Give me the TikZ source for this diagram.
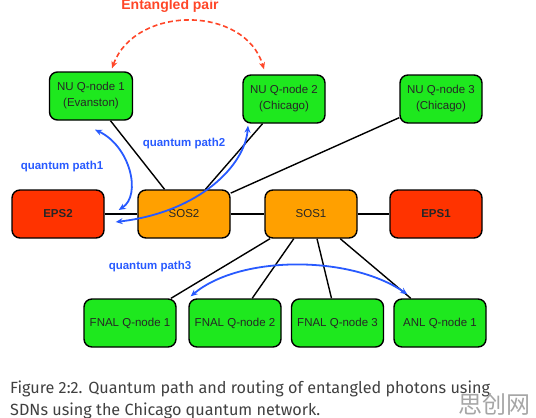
\documentclass[tikz,border=0pt]{standalone}
\usepackage{fontspec}
\setmainfont{Liberation Sans}
\newfontfamily\capfont{Fira Sans}
\newfontfamily\cjk{Noto Sans CJK SC}
\usetikzlibrary{arrows.meta}
\definecolor{qgreen}{RGB}{30,232,30}
\definecolor{sosorange}{RGB}{255,160,0}
\definecolor{epsred}{RGB}{255,51,0}
\definecolor{qblue}{RGB}{40,90,255}
\definecolor{pairred}{RGB}{255,70,40}
\begin{document}
\begin{tikzpicture}[x=1pt,y=-1pt,
	box/.style={draw=black,line width=1.4pt,rounded corners=8pt,minimum width=92pt,minimum height=48pt,inner sep=1pt,align=center,text=black!85,font=\fontsize{11.5}{16}\selectfont},
	qnode/.style={box,fill=qgreen},
	sos/.style={box,fill=sosorange},
	eps/.style={box,fill=epsred,font=\fontsize{11.5}{16}\selectfont\bfseries},
	link/.style={line width=1.4pt},
	qpath/.style={draw=qblue,line width=1.8pt,{Stealth[length=7pt,width=6pt]}-{Stealth[length=7pt,width=6pt]}},
	qlabel/.style={text=qblue,font=\fontsize{11.5}{14}\selectfont\bfseries}]
	\useasboundingbox (0,0) rectangle (536,418);
	% Các nút NU phía trên
	\node[qnode,minimum width=83pt] (nu1) at (91,96) {NU Q-node 1\\(Evanston)};
	\node[qnode,minimum width=82pt] (nu2) at (284,99) {NU Q-node 2\\(Chicago)};
	\node[qnode,minimum width=82pt] (nu3) at (441,99) {NU Q-node 3\\(Chicago)};
	% Hàng giữa: EPS và SOS
	\node[eps] (eps2) at (58,214) {EPS2};
	\node[sos] (sos2) at (184,214) {SOS2};
	\node[sos] (sos1) at (311,214) {SOS1};
	\node[eps] (eps1) at (436,214) {EPS1};
	% Các nút phía dưới
	\node[qnode] (fnal1) at (130,323) {FNAL Q-node 1};
	\node[qnode] (fnal2) at (235,323) {FNAL Q-node 2};
	\node[qnode] (fnal3) at (337.5,323) {FNAL Q-node 3};
	\node[qnode] (anl1) at (440,323) {ANL Q-node 1};
	% Các đường nối
	\foreach \a/\b in {nu1/sos2, nu2/sos2, nu3/sos2, eps2/sos2, sos2/sos1, sos1/eps1, sos1/fnal1, sos1/fnal2, sos1/fnal3, sos1/anl1}
	\draw[link] (\a) -- (\b);
	% Cặp vướng víu
	\draw[pairred,dashed,line width=1.6pt,dash pattern=on 5pt off 3pt,{Stealth[length=7pt,width=6pt]}-{Stealth[length=7pt,width=6pt]}]
	([shift={(21,-3)}]nu1.north) .. controls (135,5) and (245,5) .. ([shift={(-20,-5)}]nu2.north);
	\node[text=pairred,font=\fontsize{14}{16}\selectfont\bfseries] (pair) at (170,6) {Entangled pair};
	% Các đường lượng tử
	\draw[qpath] ([shift={(4,9)}]nu1.south) .. controls (130,146) and (142,195) .. ([shift={(14,-4)}]eps2.east);
	\draw[qpath] ([shift={(11,8)}]eps2.east) .. controls (200,212) and (245,165) .. ([shift={(-36,2)}]nu2.south);
	\draw[qpath] ([shift={(14,-2)}]fnal1.north east) .. controls (240,255) and (350,255) .. ([shift={(14,-4)}]anl1.north west);
	\node[qlabel] (lab1) at (62,167) {quantum path1};
	\node[qlabel] (lab2) at (184,144) {quantum path2};
	\node[qlabel] (lab3) at (150,267) {quantum path3};
	% Chú thích
	\node[anchor=base west,inner sep=0pt,text=black!75,font=\capfont\fontsize{16.2}{22}\selectfont] (cap1) at (10,393) {Figure 2:2. Quantum path and routing of entangled photons using};
	\node[anchor=base west,inner sep=0pt,text=black!75,font=\capfont\fontsize{16.2}{22}\selectfont] (cap2) at (10,415) {SDNs using the Chicago quantum network.};
	\node[text=gray!70,font=\cjk\fontsize{24}{24}\selectfont] (wm) at (494,404) {思创网};
\end{tikzpicture}
\end{document}
